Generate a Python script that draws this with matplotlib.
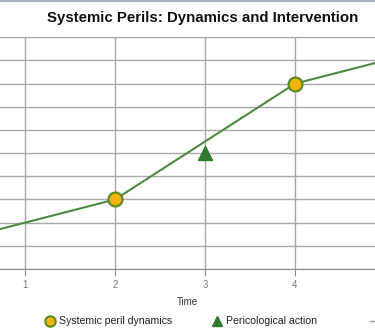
import matplotlib
matplotlib.use("Agg")
import matplotlib.pyplot as plt
from matplotlib.lines import Line2D

plt.rcParams['font.family'] = ['Liberation Sans', 'DejaVu Sans']

# data
time_line = [0, 1, 2, 3, 4, 5]
peril_line = [1, 2, 3, 5.5, 8, 9]
peril_time = [2, 4]
peril_value = [3, 8]
action_time = [3]
action_value = [5]
x_ticks = [1, 2, 3, 4]
legend_labels = ['Systemic peril dynamics', 'Pericological action', 'Trend']

W, H = 375, 334
fig = plt.figure(figsize=(W / 100, H / 100), dpi=100)
fig.patch.set_facecolor('white')


def fx(px):
    return px / W


def fy(py):
    return 1 - py / H


# axes run past both figure edges, like the cropped original
ax = fig.add_axes([0, fy(269), 1, fy(37.3) - fy(269)])
ax.set_xlim(1 - 25 / 90, 1 + 350 / 90)
ax.set_ylim(0, 10)

grid_col = '#a8a8a8'
ax.set_yticks(range(0, 11))
ax.set_xticks(x_ticks)
ax.grid(True, color=grid_col, linewidth=1)
ax.set_axisbelow(True)
for s in ['left', 'right']:
    ax.spines[s].set_visible(False)
ax.spines['top'].set_color(grid_col)
ax.spines['bottom'].set_color('#8c8c8c')
ax.tick_params(axis='y', left=False, labelleft=False)
ax.tick_params(axis='x', length=5, color='#8c8c8c', labelcolor='#777777',
               labelsize=7, pad=3)
ax.set_xlabel('Time', fontsize=7, color='#333333', labelpad=5)

line_col = '#4c8a3e'
ax.plot(time_line, peril_line, color=line_col, linewidth=1.5, zorder=3)
ax.plot(peril_time, peril_value, linestyle='none', marker='o', markersize=10,
        markerfacecolor='#f5b30b', markeredgecolor='#5d8c22',
        markeredgewidth=1.6, zorder=4)
ax.plot(action_time, action_value, linestyle='none', marker='^',
        markersize=10, color='#2f7a30', zorder=4)

fig.text(fx(203), fy(18), 'Systemic Perils: Dynamics and Intervention',
         ha='center', va='center', fontsize=10.8, fontweight='bold',
         color='#111111')

# legend drawn by hand so the clipped third entry sits where it should
leg_y = fy(321)
fig.add_artist(Line2D([fx(50)], [leg_y], marker='o', markersize=7.5,
                      markerfacecolor='#f5b30b', markeredgecolor='#5d8c22',
                      markeredgewidth=1.5, linestyle='none'))
fig.text(fx(59), leg_y, legend_labels[0], fontsize=7.6, va='center',
         color='#222222')
fig.add_artist(Line2D([fx(217)], [leg_y], marker='^', markersize=7,
                      color='#2f7a30', linestyle='none'))
fig.text(fx(226), leg_y, legend_labels[1], fontsize=7.6, va='center',
         color='#222222')
fig.add_artist(Line2D([fx(370), fx(390)], [leg_y, leg_y], color='#999999',
                      linewidth=1))

# thin frame line at the very top
fig.add_artist(Line2D([0, 1], [fy(0.5), fy(0.5)], color='#aab4c0',
                      linewidth=1.5))

fig.savefig('out.png', dpi=100)
